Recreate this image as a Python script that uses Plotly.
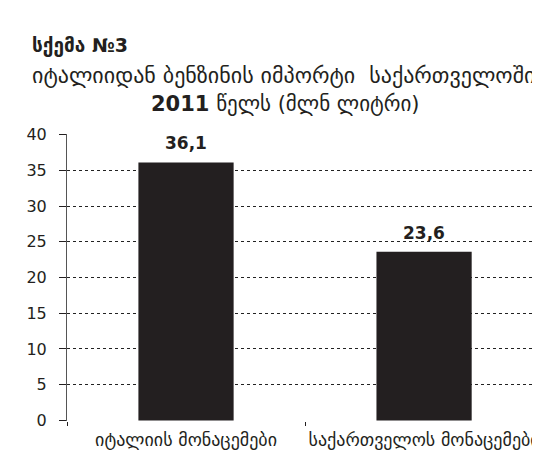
import plotly.graph_objects as go

categories = ["იტალიის მონაცემები", "საქართველოს მონაცემები"]
values = [36.1, 23.6]
value_labels = ["36,1", "23,6"]
y_ticks = [0, 5, 10, 15, 20, 25, 30, 35, 40]

FONT = "DejaVu Sans"
INK = "#231f20"

fig = go.Figure()
fig.add_trace(
    go.Bar(
        x=categories,
        y=values,
        marker=dict(color=INK, line=dict(width=0)),
        width=0.4,
        showlegend=False,
    )
)

# value labels above each bar
for cat, val, lab in zip(categories, values, value_labels):
    fig.add_annotation(
        x=cat,
        y=val,
        text="<b>" + lab + "</b>",
        showarrow=False,
        yanchor="bottom",
        yshift=7,
        font=dict(family=FONT, size=17, color=INK),
    )

# headings
fig.add_annotation(
    xref="paper", yref="paper", x=-0.078, y=1.31,
    xanchor="left", yanchor="middle", showarrow=False,
    text="<b>სქემა №3</b>",
    font=dict(family=FONT, size=19, color=INK),
)
fig.add_annotation(
    xref="paper", yref="paper", x=-0.078, y=1.205,
    xanchor="left", yanchor="middle", showarrow=False,
    text="იტალიიდან ბენზინის იმპორტი  საქართველოში",
    font=dict(family=FONT, size=22, color=INK),
)
fig.add_annotation(
    xref="paper", yref="paper", x=0.461, y=1.104,
    xanchor="center", yanchor="middle", showarrow=False,
    text="<b>2011</b> წელს (მლნ ლიტრი)",
    font=dict(family=FONT, size=21, color=INK),
)

# page body adds an 8px offset, so the figure is sized to the visible area
fig.update_layout(
    width=532,
    height=453,
    margin=dict(l=59, r=0, t=126, b=40, autoexpand=False),
    paper_bgcolor="white",
    plot_bgcolor="white",
    font=dict(family=FONT, color=INK),
    xaxis=dict(
        range=[-0.5, 1.487],
        automargin=False,
        showgrid=False,
        showline=False,
        ticks="outside",
        tickson="boundaries",
        ticklen=4,
        tickcolor=INK,
        ticklabelstandoff=6,
        tickfont=dict(family=FONT, size=18, color=INK),
    ),
    yaxis=dict(
        range=[-0.08, 40.08],
        automargin=False,
        tickvals=y_ticks,
        showgrid=True,
        gridcolor="#222222",
        griddash="dot",
        gridwidth=1,
        showline=True,
        linecolor="#555555",
        linewidth=1,
        ticks="outside",
        ticklen=7,
        tickcolor=INK,
        ticklabelstandoff=9,
        zeroline=False,
        tickfont=dict(family=FONT, size=16, color=INK),
    ),
)

fig.write_html("out.html")
